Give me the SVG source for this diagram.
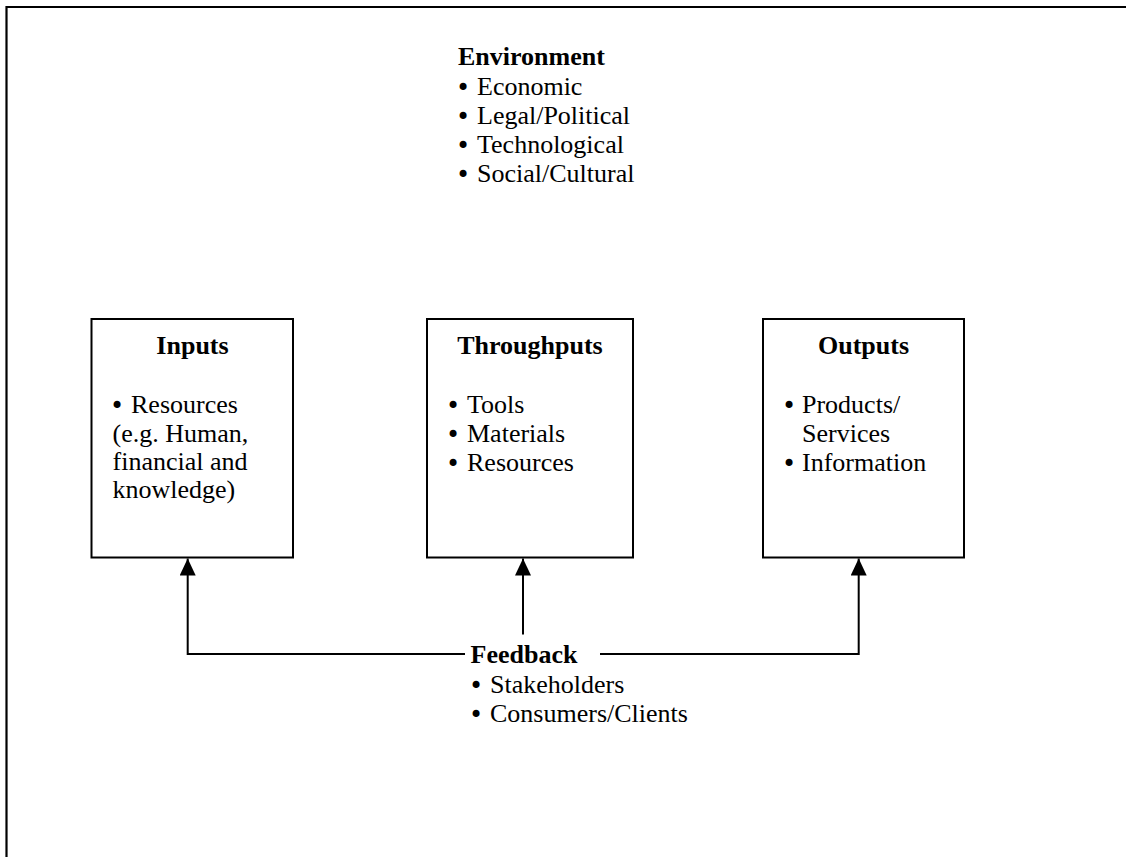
<svg xmlns="http://www.w3.org/2000/svg" width="1126" height="857" viewBox="0 0 1126 857">
  <style>
    text { font-family: "Liberation Serif", "Times New Roman", serif; font-size: 26px; fill: #000; }
    .title { font-weight: bold; }
    .mid { text-anchor: middle; }
    .dot { font-family: "DejaVu Sans", sans-serif; font-size: 24px; }
    .box { fill: #fff; stroke: #000; stroke-width: 2; }
    .frame { fill: none; stroke: #000; stroke-width: 2.2; }
    .wire { fill: none; stroke: #000; stroke-width: 2; }
  </style>
  <defs>
    <marker id="arrow" markerUnits="userSpaceOnUse" markerWidth="17" markerHeight="16" refX="17" refY="8" orient="auto" viewBox="0 0 17 16">
      <path d="M0,0 L17,8 L0,16 Z" fill="#000"/>
    </marker>
  </defs>

  <rect width="1126" height="857" fill="#fff"/>

  <!-- outer frame: top and left edges -->
  <path class="frame" d="M6.5,857 V7 H1126"/>

  <!-- environment heading with bullet list -->
  <g id="environment">
    <text class="title" x="458" y="65">Environment</text>
    <text class="dot" x="456" y="96">•</text><text x="477" y="95">Economic</text>
    <text class="dot" x="456" y="125">•</text><text x="477" y="124">Legal/Political</text>
    <text class="dot" x="456" y="154">•</text><text x="477" y="153">Technological</text>
    <text class="dot" x="456" y="183">•</text><text x="477" y="182">Social/Cultural</text>
  </g>

  <g id="inputs">
    <rect class="box" x="91.5" y="319" width="201.5" height="238.5"/>
    <text class="title mid" x="192.5" y="354">Inputs</text>
    <text class="dot" x="110" y="414">•</text><text x="131" y="413">Resources</text>
    <text x="112.5" y="441.5">(e.g. Human,</text>
    <text x="112.5" y="470">financial and</text>
    <text x="112.5" y="497.5">knowledge)</text>
  </g>

  <g id="throughputs">
    <rect class="box" x="427" y="319" width="206" height="238.5"/>
    <text class="title mid" x="530" y="354">Throughputs</text>
    <text class="dot" x="446" y="414">•</text><text x="467" y="413">Tools</text>
    <text class="dot" x="446" y="443">•</text><text x="467" y="442">Materials</text>
    <text class="dot" x="446" y="472">•</text><text x="467" y="471">Resources</text>
  </g>

  <g id="outputs">
    <rect class="box" x="763" y="319" width="201" height="238.5"/>
    <text class="title mid" x="863.5" y="354">Outputs</text>
    <text class="dot" x="782" y="414">•</text><text x="802" y="413">Products/</text>
    <text x="802" y="442">Services</text>
    <text class="dot" x="782" y="472">•</text><text x="802" y="471">Information</text>
  </g>

  <g id="feedback">
    <text class="title" x="470.5" y="663">Feedback</text>
    <text class="dot" x="469" y="694">•</text><text x="490" y="693">Stakeholders</text>
    <text class="dot" x="469" y="722.5">•</text><text x="490" y="721.5">Consumers/Clients</text>
  </g>

  <!-- feedback loops back into each stage -->
  <g id="connectors">
    <path class="wire" d="M465,654 H187.7 V558.5" marker-end="url(#arrow)"/>
    <path class="wire" d="M523,634.5 V558.5" marker-end="url(#arrow)"/>
    <path class="wire" d="M600,654 H858.7 V558.5" marker-end="url(#arrow)"/>
  </g>
</svg>
